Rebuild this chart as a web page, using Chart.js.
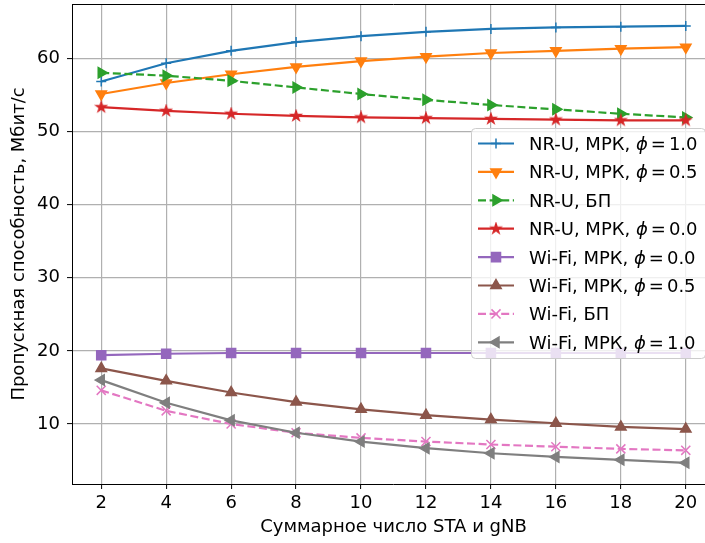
<!DOCTYPE html>
<html lang="ru">
<head>
<meta charset="UTF-8">
<title>Пропускная способность</title>
<script src="https://cdn.jsdelivr.net/npm/chart.js@4.4.1/dist/chart.umd.min.js"></script>
<style>
  html, body { margin: 0; padding: 0; background: #fff; overflow: hidden; }
  #wrap { width: 716px; height: 543px; }
</style>
</head>
<body>
<div id="wrap"><canvas id="chart" width="716" height="543"></canvas></div>
<script>
// данные
const xValues = [2, 4, 6, 8, 10, 12, 14, 16, 18, 20];
const nrPhi10 = [56.8, 59.3, 61.0, 62.2, 63.0, 63.6, 64.0, 64.2, 64.3, 64.4];
const nrPhi05 = [55.1, 56.6, 57.8, 58.8, 59.6, 60.2, 60.7, 61.0, 61.3, 61.5];
const nrBP    = [58.0, 57.6, 56.9, 56.0, 55.1, 54.3, 53.6, 53.0, 52.4, 51.9];
const nrPhi00 = [53.3, 52.8, 52.4, 52.1, 51.9, 51.8, 51.7, 51.6, 51.5, 51.5];
const wfPhi00 = [19.4, 19.6, 19.7, 19.7, 19.7, 19.7, 19.7, 19.7, 19.7, 19.7];
const wfPhi05 = [17.6, 15.9, 14.3, 13.0, 12.0, 11.2, 10.6, 10.1, 9.6, 9.3];
const wfBP    = [14.6, 11.8, 10.0, 8.8, 8.1, 7.6, 7.2, 6.9, 6.6, 6.4];
const wfPhi10 = [16.0, 12.9, 10.5, 8.8, 7.6, 6.7, 6.0, 5.5, 5.1, 4.7];

const xTicks = [2, 4, 6, 8, 10, 12, 14, 16, 18, 20];
const yTicks = [10, 20, 30, 40, 50, 60];

// подписи легенды: [начало, значение phi или null]
const legendLabels = [
  ['NR-U, МРК, ', '1.0'],
  ['NR-U, МРК, ', '0.5'],
  ['NR-U, БП', null],
  ['NR-U, МРК, ', '0.0'],
  ['Wi-Fi, МРК, ', '0.0'],
  ['Wi-Fi, МРК, ', '0.5'],
  ['Wi-Fi, БП', null],
  ['Wi-Fi, МРК, ', '1.0']
];

const FONT = 'DejaVu Sans';

function makeStar(color) {
  const size = 14;
  const c = document.createElement('canvas');
  c.width = c.height = size;
  const g = c.getContext('2d');
  const R = 5.6, r = R * 0.382;
  g.beginPath();
  for (let i = 0; i < 10; i++) {
    const a = -Math.PI / 2 + i * Math.PI / 5;
    const rr = i % 2 ? r : R;
    g.lineTo(size / 2 + rr * Math.cos(a), size / 2 + rr * Math.sin(a));
  }
  g.closePath();
  g.fillStyle = color;
  g.fill();
  g.strokeStyle = color;
  g.lineWidth = 1.2;
  g.stroke();
  return c;
}

function series(values, color, style, extra) {
  return Object.assign({
    data: values.map((v, i) => ({ x: xValues[i], y: v })),
    borderColor: color,
    backgroundColor: color,
    pointBackgroundColor: color,
    pointBorderColor: color,
    borderWidth: 2.2,
    pointStyle: style,
    pointRadius: 6,
    pointBorderWidth: 1.5,
    pointRotation: 0,
    tension: 0,
    fill: false
  }, extra || {});
}

const dash = [8, 3.6];
const datasets = [
  series(nrPhi10, '#1f77b4', 'cross', { pointRadius: 5 }),
  series(nrPhi05, '#ff7f0e', 'triangle', { pointRotation: 180 }),
  series(nrBP, '#2ca02c', 'triangle', { pointRotation: 90, borderDash: dash }),
  series(nrPhi00, '#d62728', makeStar('#d62728'), {}),
  series(wfPhi00, '#9467bd', 'rect', { pointRadius: 6.4 }),
  series(wfPhi05, '#8c564b', 'triangle', {}),
  series(wfBP, '#e377c2', 'crossRot', { pointRadius: 6.4, borderDash: dash }),
  series(wfPhi10, '#7f7f7f', 'triangle', { pointRotation: 270 })
];
// matplotlib рисует последнюю серию поверх
datasets.forEach((d, i) => { d.order = datasets.length - i; });

const frameAndLegend = {
  id: 'frameAndLegend',
  afterDraw(chart) {
    const ctx = chart.ctx;
    const a = chart.chartArea;
    ctx.save();
    // верхняя рамка
    ctx.strokeStyle = '#000';
    ctx.lineWidth = 1;
    ctx.beginPath();
    ctx.moveTo(a.left, Math.round(a.top) + 0.5);
    ctx.lineTo(a.right, Math.round(a.top) + 0.5);
    ctx.stroke();

    // легенда
    const bx = 471.5, by = 128.5, bw = 234, bh = 230, rad = 4;
    ctx.beginPath();
    ctx.roundRect(bx, by, bw, bh, rad);
    ctx.fillStyle = 'rgba(255,255,255,0.8)';
    ctx.fill();
    ctx.strokeStyle = '#cccccc';
    ctx.stroke();

    const helpers = Chart.helpers;
    datasets.forEach((d, i) => {
      const base = 150 + i * 28.4;
      const cy = base - 6.5;
      ctx.setLineDash(d.borderDash || []);
      ctx.strokeStyle = d.borderColor;
      ctx.lineWidth = d.borderWidth;
      ctx.beginPath();
      ctx.moveTo(478, cy);
      ctx.lineTo(514, cy);
      ctx.stroke();
      ctx.setLineDash([]);
      ctx.fillStyle = d.borderColor;
      ctx.strokeStyle = d.borderColor;
      ctx.lineWidth = d.pointBorderWidth;
      helpers.drawPoint(ctx, {
        pointStyle: d.pointStyle,
        rotation: d.pointRotation,
        radius: d.pointRadius,
        borderWidth: d.pointBorderWidth
      }, 496, cy);

      const [txt, phi] = legendLabels[i];
      ctx.fillStyle = '#000';
      ctx.textBaseline = 'alphabetic';
      ctx.textAlign = 'left';
      ctx.font = '18px "' + FONT + '"';
      let x = 529;
      ctx.fillText(txt, x, base);
      x += ctx.measureText(txt).width;
      if (phi) {
        ctx.font = 'italic 18px "' + FONT + '"';
        ctx.fillText('ϕ', x, base);
        x += ctx.measureText('ϕ').width + 3;
        ctx.font = '18px "' + FONT + '"';
        ctx.fillText('=', x, base);
        x += ctx.measureText('=').width + 3;
        ctx.fillText(phi, x, base);
      }
    });
    ctx.restore();
  }
};

const tickFont = { family: FONT, size: 18 };

new Chart(document.getElementById('chart'), {
  type: 'line',
  data: { datasets: datasets },
  plugins: [frameAndLegend],
  options: {
    responsive: false,
    animation: false,
    devicePixelRatio: 1,
    layout: { autoPadding: false, padding: { left: 0, right: 1, top: 4, bottom: 0 } },
    plugins: { legend: { display: false }, tooltip: { enabled: false } },
    scales: {
      x: {
        type: 'linear',
        min: 1.1,
        max: 20.9,
        afterBuildTicks: s => { s.ticks = xTicks.map(v => ({ value: v })); },
        afterFit: s => { s.height = 59; s.paddingLeft = 0; s.paddingRight = 0; },
        grid: { color: '#b0b0b0', lineWidth: 1.2, tickColor: '#000', tickLength: 5, tickWidth: 1 },
        border: { color: '#000', width: 1 },
        ticks: { color: '#000', font: tickFont, padding: 4, maxRotation: 0 },
        title: {
          display: true,
          text: 'Суммарное число STA и gNB',
          color: '#000',
          font: tickFont,
          padding: { top: 0, bottom: 5 }
        }
      },
      y: {
        type: 'linear',
        min: 1.8,
        max: 67.4,
        afterBuildTicks: s => { s.ticks = yTicks.map(v => ({ value: v })); },
        afterFit: s => { s.width = 72; s.paddingTop = 0; s.paddingBottom = 0; },
        grid: { color: '#b0b0b0', lineWidth: 1.2, tickColor: '#000', tickLength: 5, tickWidth: 1 },
        border: { color: '#000', width: 1 },
        ticks: { color: '#000', font: tickFont, padding: 7 },
        title: {
          display: true,
          text: 'Пропускная способность, Мбит/с',
          color: '#000',
          font: tickFont,
          padding: { top: 9, bottom: 0 }
        }
      }
    }
  }
});
</script>
</body>
</html>
